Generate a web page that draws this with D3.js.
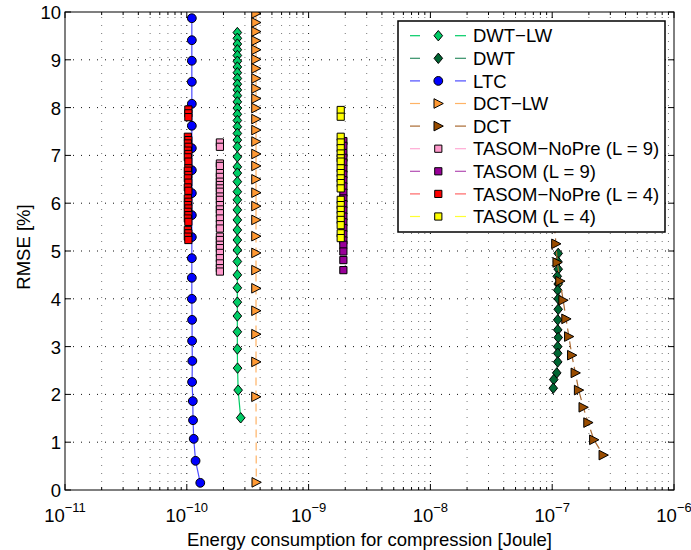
<!DOCTYPE html>
<html><head><meta charset="utf-8">
<script src="https://cdn.jsdelivr.net/npm/d3@7"></script>
<style>body{margin:0;background:#fff}svg{display:block}text{font-family:"Liberation Sans",Arial,sans-serif;fill:#000}</style>
</head><body><svg id="c" width="691" height="550"></svg>
<script>
// ---------- data ----------
const seriesNames = ["DWT\u2212LW","DWT","LTC","DCT\u2212LW","DCT","TASOM\u2212NoPre (L = 9)","TASOM (L = 9)","TASOM\u2212NoPre (L = 4)","TASOM (L = 4)"];
const xTickExps = [-11,-10,-9,-8,-7,-6];
const yTicks = [0,1,2,3,4,5,6,7,8,9,10];

const dwtlwRmse = [9.57,9.45,9.33,9.21,9.09,8.97,8.85,8.73,8.61,8.49,8.37,8.25,8.12,7.99,7.86,7.73,7.60,7.46,7.32,7.18,6.97,6.76,6.63,6.45,6.24,6.07,5.86,5.65,5.44,5.23,5.02,4.78,4.50,4.23,3.93,3.64,3.31,2.95,2.55,2.09,1.51];
const dwtlwEnergy = [2.6e-10,2.6e-10,2.6e-10,2.6e-10,2.6e-10,2.6e-10,2.6e-10,2.6e-10,2.6e-10,2.6e-10,2.6e-10,2.6e-10,2.6e-10,2.6e-10,2.6e-10,2.6e-10,2.6e-10,2.6e-10,2.6e-10,2.6e-10,2.6e-10,2.6e-10,2.6e-10,2.6e-10,2.6e-10,2.6e-10,2.6e-10,2.6e-10,2.6e-10,2.6e-10,2.6e-10,2.6e-10,2.6e-10,2.6e-10,2.6e-10,2.6e-10,2.6e-10,2.6e-10,2.61e-10,2.64e-10,2.77e-10];

const dwtRmse = [4.95,4.78,4.62,4.47,4.31,4.18,4.00,3.78,3.56,3.35,3.19,3.00,2.86,2.68,2.45,2.31,2.13];
const dwtEnergy = [1.12e-7,1.11e-7,1.12e-7,1.10e-7,1.12e-7,1.11e-7,1.12e-7,1.12e-7,1.11e-7,1.11e-7,1.12e-7,1.11e-7,1.11e-7,1.11e-7,1.09e-7,1.03e-7,1.02e-7];

const ltcRmse = [9.87,9.41,8.98,8.54,8.08,7.62,7.15,6.69,6.21,5.75,5.29,4.85,4.44,4.00,3.56,3.12,2.70,2.26,1.86,1.46,1.07,0.61,0.15];
const ltcEnergy = [1.10e-10,1.10e-10,1.10e-10,1.10e-10,1.10e-10,1.10e-10,1.10e-10,1.10e-10,1.10e-10,1.10e-10,1.10e-10,1.10e-10,1.10e-10,1.10e-10,1.105e-10,1.105e-10,1.11e-10,1.105e-10,1.12e-10,1.125e-10,1.14e-10,1.18e-10,1.29e-10];

const dctlwRmse = [9.97,9.78,9.59,9.40,9.21,9.01,8.82,8.61,8.40,8.19,7.99,7.76,7.53,7.29,7.03,6.78,6.50,6.22,5.94,5.65,5.31,4.96,4.60,4.22,3.75,3.26,2.68,1.95,0.16];
const dctlwEnergy = [3.7e-10,3.7e-10,3.7e-10,3.7e-10,3.7e-10,3.7e-10,3.7e-10,3.7e-10,3.7e-10,3.7e-10,3.7e-10,3.7e-10,3.7e-10,3.7e-10,3.7e-10,3.7e-10,3.7e-10,3.7e-10,3.7e-10,3.7e-10,3.7e-10,3.7e-10,3.7e-10,3.7e-10,3.7e-10,3.7e-10,3.7e-10,3.7e-10,3.72e-10];

const dctRmse = [6.35,5.95,5.55,5.15,4.76,4.37,3.97,3.58,3.21,2.82,2.45,2.09,1.73,1.41,1.05,0.73];
const dctEnergy = [1.00e-7,1.02e-7,1.04e-7,1.074e-7,1.10e-7,1.16e-7,1.23e-7,1.30e-7,1.37e-7,1.45e-7,1.55e-7,1.65e-7,1.80e-7,1.97e-7,2.20e-7,2.63e-7];

const nopre9Rmse = [7.27,7.18,6.83,6.78,6.63,6.55,6.45,6.38,6.31,6.24,6.14,6.07,5.96,5.87,5.79,5.68,5.56,5.47,5.30,5.23,5.13,5.06,4.96,4.85,4.74,4.64,4.57];
const nopre9Energy = 1.87e-10;

const tasom9Rmse = [7.30,7.20,7.05,6.95,6.85,6.72,6.60,6.48,6.35,6.22,6.10,5.98,5.85,5.72,5.60,5.48,5.35,5.22,5.13,4.99,4.81,4.60];
const tasom9Energy = 1.93e-9;

const nopre4Rmse = [7.96,7.88,7.80,7.39,7.32,7.25,7.18,7.10,7.03,6.96,6.87,6.73,6.68,6.59,6.52,6.43,6.33,6.26,6.10,6.03,5.96,5.89,5.82,5.75,5.68,5.61,5.44,5.37,5.30,5.23];
const nopre4Energy = [1.03e-10,1.03e-10,1.03e-10,1.02e-10,1.03e-10,1.02e-10,1.03e-10,1.02e-10,1.03e-10,1.02e-10,1.03e-10,1.03e-10,1.02e-10,1.03e-10,1.02e-10,1.03e-10,1.02e-10,1.03e-10,1.02e-10,1.03e-10,1.02e-10,1.03e-10,1.02e-10,1.03e-10,1.02e-10,1.03e-10,1.02e-10,1.03e-10,1.02e-10,1.03e-10];

const tasom4Rmse = [7.95,7.81,7.39,7.27,7.15,7.04,6.94,6.87,6.73,6.63,6.52,6.42,6.31,6.07,5.96,5.86,5.75,5.65,5.54,5.37,5.27];
const tasom4Energy = 1.835e-9;

// ---------- build ----------
function pts(en, rm){ return rm.map((r,i)=>({x: Array.isArray(en)?en[i]:en, y:r})); }
const series = [
 {name:seriesNames[0], data:pts(dwtlwEnergy,dwtlwRmse), fill:"#00cc66", line:"#00cc66", dash:null, shape:"diamond", drawLine:true},
 {name:seriesNames[1], data:pts(dwtEnergy,dwtRmse), fill:"#006633", line:"#338f66", dash:null, shape:"diamond", drawLine:true},
 {name:seriesNames[2], data:pts(ltcEnergy,ltcRmse), fill:"#0000ff", line:"#4d4dff", dash:null, shape:"circle", drawLine:true},
 {name:seriesNames[3], data:pts(dctlwEnergy,dctlwRmse), fill:"#ff9933", line:"#ffb366", dash:"8,5", shape:"tri", drawLine:true},
 {name:seriesNames[4], data:pts(dctEnergy,dctRmse), fill:"#994c00", line:"#aa6a33", dash:"8,5", shape:"tri", drawLine:true},
 {name:seriesNames[5], data:pts(nopre9Energy,nopre9Rmse), fill:"#ff99cc", line:"#ffaad4", dash:null, shape:"square", drawLine:false},
 {name:seriesNames[6], data:pts(tasom9Energy,tasom9Rmse), fill:"#990099", line:"#b34db3", dash:null, shape:"square", drawLine:false},
 {name:seriesNames[7], data:pts(nopre4Energy,nopre4Rmse), fill:"#ff0000", line:"#ff6666", dash:null, shape:"square", drawLine:false},
 {name:seriesNames[8], data:pts(tasom4Energy,tasom4Rmse), fill:"#ffff00", line:"#ffff33", dash:null, shape:"square", drawLine:false}
];

const L=65,R=674,T=12,B=490;
const x = d3.scaleLog().domain([1e-11,1e-6]).range([L,R]);
const y = d3.scaleLinear().domain([0,10]).range([B,T]);
const svg = d3.select("#c");
const FS = 18.5;

svg.append("defs").append("clipPath").attr("id","clip").append("rect").attr("x",L).attr("y",T).attr("width",R-L).attr("height",B-T);

// grid
const minorX = [];
for(let e=-11;e<-6;e++) for(let k=2;k<=9;k++) minorX.push(k*Math.pow(10,e));
const majorX = xTickExps.slice(1,-1).map(e=>Math.pow(10,e));
const g = svg.append("g");
g.selectAll(".mx").data(minorX).enter().append("line")
 .attr("x1",d=>x(d)).attr("x2",d=>x(d)).attr("y1",B).attr("y2",T)
 .attr("stroke","#777").attr("stroke-width",1).attr("stroke-dasharray","1,7");
g.selectAll(".Mx").data(majorX).enter().append("line")
 .attr("x1",d=>x(d)).attr("x2",d=>x(d)).attr("y1",B).attr("y2",T)
 .attr("stroke","#111").attr("stroke-width",1).attr("stroke-dasharray","1,7");
g.selectAll(".gy").data(yTicks.slice(1,-1)).enter().append("line")
 .attr("x1",L).attr("x2",R).attr("y1",d=>y(d)).attr("y2",d=>y(d))
 .attr("stroke","#111").attr("stroke-width",1).attr("stroke-dasharray","1,7");

// marker paths
function shapePath(s){
 if(s==="diamond") return "M0,-5.2L4.3,0L0,5.2L-4.3,0Z";
 if(s==="tri") return "M-4.3,-4.8L5,0L-4.3,4.8Z";
 if(s==="square") return "M-3.6,-3.6H3.6V3.6H-3.6Z";
 return d3.symbol().type(d3.symbolCircle).size(Math.PI*4.4*4.4)();
}

const plot = svg.append("g").attr("clip-path","url(#clip)");
const lineGen = d3.line().x(d=>x(d.x)).y(d=>y(d.y));
series.forEach(s=>{
 const sg = plot.append("g");
 if(s.drawLine){
  sg.append("path").datum(s.data).attr("d",lineGen).attr("fill","none")
   .attr("stroke",s.line).attr("stroke-width",1.2).attr("stroke-dasharray",s.dash);
 }
 sg.selectAll("path.m").data(s.data).enter().append("path").attr("class","m")
  .attr("d",shapePath(s.shape))
  .attr("transform",d=>`translate(${x(d.x)},${y(d.y)})`)
  .attr("fill",s.fill).attr("stroke","#000").attr("stroke-width",1);
});

// frame
svg.append("rect").attr("x",L).attr("y",T).attr("width",R-L).attr("height",B-T)
 .attr("fill","none").attr("stroke","#000").attr("stroke-width",1);

// ticks
const tk = svg.append("g").attr("stroke","#000").attr("stroke-width",1);
const allMajor = xTickExps.map(e=>Math.pow(10,e));
allMajor.forEach(v=>{
 tk.append("line").attr("x1",x(v)).attr("x2",x(v)).attr("y1",B).attr("y2",B-6);
 tk.append("line").attr("x1",x(v)).attr("x2",x(v)).attr("y1",T).attr("y2",T+6);
});
minorX.forEach(v=>{
 tk.append("line").attr("x1",x(v)).attr("x2",x(v)).attr("y1",B).attr("y2",B-3);
 tk.append("line").attr("x1",x(v)).attr("x2",x(v)).attr("y1",T).attr("y2",T+3);
});
yTicks.forEach(v=>{
 tk.append("line").attr("x1",L).attr("x2",L+6).attr("y1",y(v)).attr("y2",y(v));
 tk.append("line").attr("x1",R).attr("x2",R-6).attr("y1",y(v)).attr("y2",y(v));
});

// tick labels
svg.selectAll(".yl").data(yTicks).enter().append("text")
 .attr("x",L-4).attr("y",d=>y(d)+7).attr("text-anchor","end").attr("font-size",FS).text(d=>d);
xTickExps.forEach(e=>{
 const t = svg.append("text").attr("x",x(Math.pow(10,e))).attr("y",522).attr("text-anchor","middle").attr("font-size",FS);
 t.append("tspan").text("10");
 t.append("tspan").attr("dy",-10).attr("font-size",13).text("\u2212"+Math.abs(e));
});

// axis titles
svg.append("text").attr("x",(L+R)/2).attr("y",546).attr("text-anchor","middle").attr("font-size",FS)
 .text("Energy consumption for compression [Joule]");
svg.append("text").attr("transform",`translate(30,${(T+B)/2 - 4}) rotate(-90)`).attr("text-anchor","middle").attr("font-size",FS)
 .text("RMSE [%]");

// legend
const lg = svg.append("g");
lg.append("rect").attr("x",398).attr("y",21).attr("width",267).attr("height",211)
 .attr("fill","#fff").attr("stroke","#000").attr("stroke-width",1.5);
series.forEach((s,i)=>{
 const cy = 35.7 + i*22.6;
 lg.append("line").attr("x1",410).attr("x2",420).attr("y1",cy).attr("y2",cy).attr("stroke",s.line).attr("stroke-width",1.2);
 lg.append("line").attr("x1",455).attr("x2",466).attr("y1",cy).attr("y2",cy).attr("stroke",s.line).attr("stroke-width",1.2);
 lg.append("path").attr("d",shapePath(s.shape)).attr("transform",`translate(438.3,${cy})`)
  .attr("fill",s.fill).attr("stroke","#000").attr("stroke-width",1);
 lg.append("text").attr("x",473).attr("y",cy+6.6).attr("font-size",FS).text(s.name);
});
</script></body></html>
